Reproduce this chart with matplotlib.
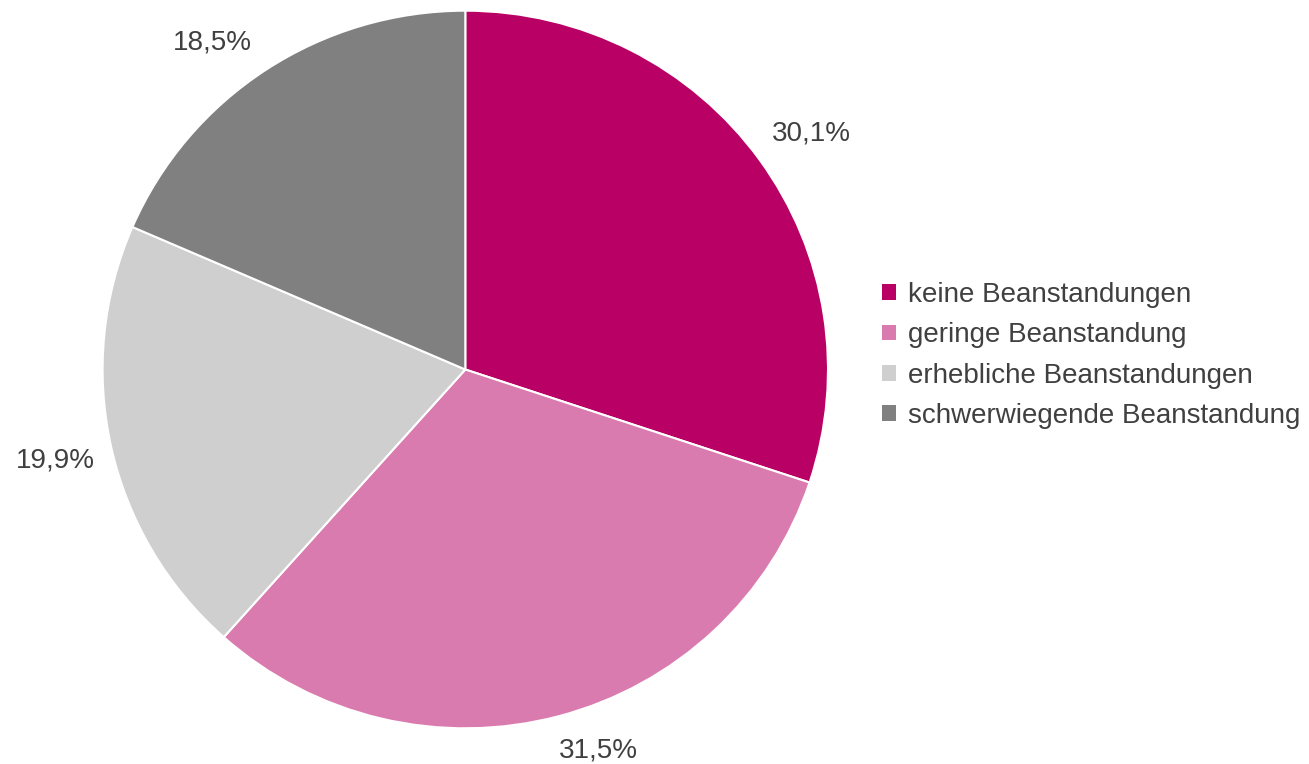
import matplotlib
matplotlib.use("Agg")
import matplotlib.pyplot as plt
from matplotlib.patches import Patch

plt.rcParams['font.family'] = ['Liberation Sans', 'DejaVu Sans']

categories = ["keine Beanstandungen", "geringe Beanstandung",
              "erhebliche Beanstandungen", "schwerwiegende Beanstandung"]
shares = [30.1, 31.5, 19.9, 18.5]
colors = ["#B90064", "#DA7BAF", "#CFCFCF", "#808080"]
text_color = "#404040"

W, H = 1309, 764
fig = plt.figure(figsize=(W / 100, H / 100), dpi=100)
ax = fig.add_axes([0, 0, 1, 1])

wedges, texts, autotexts = ax.pie(
    shares, colors=colors, startangle=90, counterclock=False,
    radius=1.0, center=(0, 0),
    autopct=lambda p: f"{p:.1f}".replace(".", ",") + "%",
    pctdistance=1.16,
    wedgeprops=dict(edgecolor="white", linewidth=1.5),
    textprops=dict(color=text_color, fontsize=20),
)

# pie centre and radii in pixels (slightly wider than tall)
cx, cy, rx, ry = 465.3, 369.5, 362.7, 358.8
ax.set_xlim(-cx / rx, (W - cx) / rx)
ax.set_ylim(-(H - cy) / ry, cy / ry)
ax.set_aspect("auto")
ax.axis("off")

# best-fit label offsets from the pie centre, in pixels (x right, y up)
label_offsets = [(346, 236), (133, -381), (-410, -91), (-253, 327)]
for t, (dx, dy) in zip(autotexts, label_offsets):
    t.set_position((dx / rx, dy / ry))
    t.set_ha("center")
    t.set_va("center")

handles = [Patch(facecolor=c, edgecolor="none") for c in colors]
fig.legend(handles, categories, loc="center left",
           bbox_to_anchor=(882 / W, (H - 355.5) / H),
           frameon=False, fontsize=20, labelcolor=text_color,
           handlelength=0.5, handleheight=0.5, handletextpad=0.45,
           labelspacing=0.52, borderpad=0, borderaxespad=0)

fig.savefig("out.png", dpi=100, facecolor="white")
